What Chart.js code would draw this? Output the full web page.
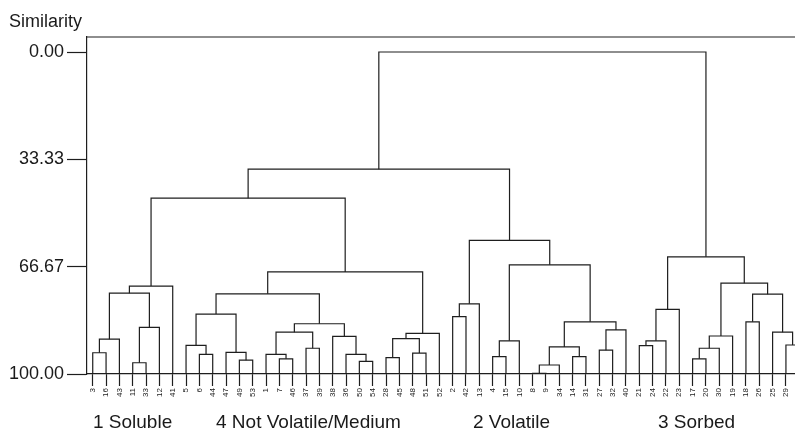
<!DOCTYPE html>
<html>
<head>
<meta charset="utf-8">
<script src="https://cdn.jsdelivr.net/npm/chart.js@4.4.1/dist/chart.umd.min.js"></script>
<style>
  html, body { margin: 0; padding: 0; background: #fff; }
  #wrap { width: 795px; height: 430px; }
</style>
</head>
<body>
<div id="wrap"><canvas id="myChart" width="795" height="430"></canvas></div>
<script>
// leaf order along the bottom (35 is the last one, cut off by the right edge)
var leaves = ['3', '16', '43', '11', '33', '12', '41', '5', '6', '44', '47', '49', '53',
  '1', '7', '46', '37', '39', '38', '36', '50', '54', '28', '45', '48', '51', '52',
  '2', '42', '13', '4', '15', '10', '8', '9', '34', '14', '31', '27', '32', '40',
  '21', '24', '22', '23', '17', '20', '30', '19', '18', '26', '25', '29', '35'];

// merges: [left, right, similarity], 'mN' = cluster made by merge N
var merges = [
  ['3', '16', 93.4], ['m0', '43', 89.2], ['11', '33', 96.5], ['m2', '12', 85.5],
  ['m1', 'm3', 74.9], ['m4', '41', 72.7],
  ['6', '44', 93.9], ['5', 'm6', 91.1], ['49', '53', 95.7], ['47', 'm8', 93.3],
  ['m7', 'm9', 81.4], ['7', '46', 95.3], ['1', 'm11', 93.9], ['37', '39', 92.0],
  ['m12', 'm13', 87.0], ['50', '54', 96.1], ['36', 'm15', 93.9], ['38', 'm16', 88.3],
  ['m14', 'm17', 84.4], ['m10', 'm18', 75.1], ['28', '45', 94.9], ['48', '51', 93.5],
  ['m20', 'm21', 89.0], ['m22', '52', 87.4], ['m19', 'm23', 68.3], ['m5', 'm24', 45.4],
  ['2', '42', 82.2], ['m26', '13', 78.2], ['4', '15', 94.6], ['m28', '10', 89.7],
  ['8', '9', 99.8], ['m30', '34', 97.2], ['14', '31', 94.6], ['m31', 'm32', 91.6],
  ['27', '32', 92.6], ['m34', '40', 86.3], ['m33', 'm35', 83.8], ['m29', 'm36', 66.1],
  ['m27', 'm37', 58.5], ['m25', 'm38', 36.4],
  ['21', '24', 91.2], ['m40', '22', 89.7], ['m41', '23', 79.9], ['17', '20', 95.3],
  ['m43', '30', 92.0], ['m44', '19', 88.2], ['18', '26', 83.8], ['29', '35', 91.0],
  ['25', 'm47', 87.0], ['m46', 'm48', 75.2], ['m45', 'm49', 71.8], ['m42', 'm50', 63.6],
  ['m39', 'm51', 0.0]
];

var yTicks = [0, 33.33, 66.67, 100];

var groups = ['1 Soluble', '4 Not Volatile/Medium', '2 Volatile', '3 Sorbed'];

// node positions: leaves sit at their index, a merge sits halfway between its two parts
var pos = {};
leaves.forEach(function (l, i) {
  pos[l] = { x: i, y: 100 };
});

var links = merges.map(function (m, k) {
  var a = pos[m[0]];
  var b = pos[m[1]];
  pos['m' + k] = { x: (a.x + b.x) / 2, y: m[2] };
  return {
    data: [
      { x: a.x, y: a.y },
      { x: a.x, y: m[2] },
      { x: b.x, y: m[2] },
      { x: b.x, y: b.y }
    ],
    showLine: true,
    borderColor: '#1e1e1e',
    borderWidth: 1.2,
    pointRadius: 0,
    fill: false,
    tension: 0
  };
});

var textColor = '#1a1a1a';

// frame top, axis title and group names
var extras = {
  id: 'extras',
  afterDraw: function (chart) {
    var ctx = chart.ctx;
    var area = chart.chartArea;
    ctx.save();
    ctx.strokeStyle = '#1e1e1e';
    ctx.lineWidth = 1.2;
    ctx.beginPath();
    ctx.moveTo(area.left, area.top);
    ctx.lineTo(chart.width, area.top);
    ctx.stroke();

    ctx.fillStyle = textColor;
    ctx.textBaseline = 'alphabetic';
    ctx.textAlign = 'left';
    ctx.font = '18px "Liberation Sans", Arial, sans-serif';
    ctx.fillText('Similarity', 9, 27);

    ctx.font = '19px "Liberation Sans", Arial, sans-serif';
    var startX = [93, 216, 473, 658];
    groups.forEach(function (g, i) {
      ctx.fillText(g, startX[i], 428);
    });
    ctx.restore();
  }
};

var ctx = document.getElementById('myChart').getContext('2d');

var chart = new Chart(ctx, {
  type: 'scatter',
  data: { datasets: links },
  options: {
    responsive: false,
    animation: false,
    events: [],
    layout: { padding: { top: 37, left: 0, right: 0, bottom: 0 } },
    plugins: {
      legend: { display: false },
      tooltip: { enabled: false }
    },
    scales: {
      x: {
        type: 'linear',
        min: -0.43,
        max: 52.68,
        afterBuildTicks: function (scale) {
          var t = [];
          for (var i = 0; i < leaves.length; i++) {
            if (i <= scale.max) t.push({ value: i });
          }
          scale.ticks = t;
        },
        afterFit: function (scale) {
          scale.height = 56;
          scale.paddingLeft = 0;
          scale.paddingRight = 0;
        },
        grid: {
          display: true,
          drawOnChartArea: false,
          drawTicks: true,
          tickLength: 12,
          tickColor: '#1e1e1e',
          tickWidth: 1.2
        },
        border: { display: true, color: '#1e1e1e', width: 1.2 },
        ticks: {
          autoSkip: false,
          maxRotation: 90,
          minRotation: 90,
          padding: 2,
          color: textColor,
          font: { size: 8, family: '"Liberation Sans", Arial, sans-serif' },
          callback: function (v) {
            return leaves[v];
          }
        }
      },
      y: {
        type: 'linear',
        reverse: true,
        min: -4.66,
        max: 100,
        afterBuildTicks: function (scale) {
          scale.ticks = yTicks.map(function (v) { return { value: v }; });
        },
        afterFit: function (scale) {
          scale.width = 87;
          scale.paddingTop = 0;
          scale.paddingBottom = 0;
        },
        grid: {
          display: true,
          drawOnChartArea: false,
          drawTicks: true,
          tickLength: 20,
          tickColor: '#1e1e1e',
          tickWidth: 1.2
        },
        border: { display: true, color: '#1e1e1e', width: 1.2 },
        ticks: {
          padding: 3,
          color: textColor,
          font: { size: 18, family: '"Liberation Sans", Arial, sans-serif' },
          callback: function (v) {
            return v.toFixed(2);
          }
        }
      }
    }
  },
  plugins: [extras]
});
</script>
</body>
</html>
